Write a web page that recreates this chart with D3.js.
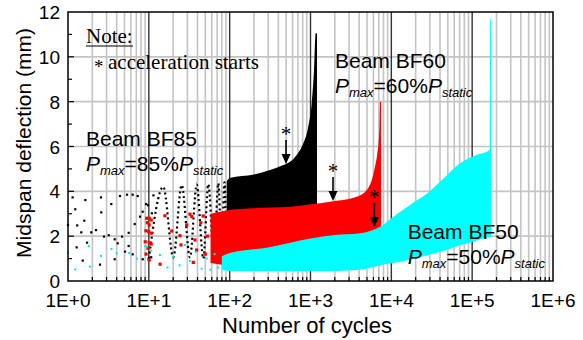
<!DOCTYPE html>
<html><head><meta charset="utf-8">
<script src="https://cdn.jsdelivr.net/npm/d3@7"></script>
<style>html,body{margin:0;padding:0;background:#fff;}svg{display:block;}</style>
</head><body>
<svg id="chart" width="583" height="340"></svg>
<script>
// ---------- data ----------
const xTickValues = [1, 10, 100, 1000, 10000, 100000, 1000000];
const xTickLabels = ["1E+0", "1E+1", "1E+2", "1E+3", "1E+4", "1E+5", "1E+6"];
const yTickValues = [0, 2, 4, 6, 8, 10, 12];

// Beam BF85 (black): dense envelope (cycles, min/max deflection)
const bf85N   = [92, 100, 200, 316, 461, 558, 675, 815, 939, 1035, 1105, 1159, 1204];
const bf85Top = [4.45, 4.6, 4.75, 4.95, 5.17, 5.32, 5.62, 6.14, 6.88, 7.93, 9.41, 11.05, 11.05];
const bf85Bot = [1.0, 1.0, 1.0, 1.0, 1.1, 1.1, 1.2, 1.3, 1.4, 1.5, 1.6, 1.7, 1.8];
// BF85 early sparse readings
const bf85DotN = [1.0,1.14,1.23,1.28,1.30,1.46,1.52,1.59,1.64,1.72,1.94,2.22,2.49,2.56,2.58,2.79,3.19,3.43,3.78,3.78,4.12,4.40,4.66,5.07,5.37,5.63,5.63,6.31,6.31,6.68,7.28,7.78,8.40,8.40,9.23,9.77,9.96,10.7,10.9,11.4];
const bf85DotD = [2.5,3.73,3.2,1.5,2.48,2.17,0.91,2.69,3.61,1.71,2.17,2.27,0.73,3.73,3.06,1.98,2.04,3.43,1.86,0.97,1.68,3.79,1.98,1.31,3.85,2.15,1.56,3.85,1.19,2.54,3.79,2.87,3.09,0.97,3.43,3.38,0.97,1.06,3.02,3.82];
// BF85 oscillation peaks / troughs (10 - 95 cycles)
const bf85WaveN = [10, 15.1, 20.1, 25.5, 32.3, 39.1, 47.2, 54.4, 64, 72.4, 80, 86, 92];
const bf85WaveD = [1.0, 4.2, 1.05, 4.28, 1.05, 4.3, 1.0, 4.32, 1.0, 4.36, 1.0, 4.4, 1.0];

// Beam BF60 (red)
const bf60N   = [58, 100, 200, 558, 1000, 1742, 3731, 4959, 5715, 6281, 6710, 7100, 7250, 7450];
const bf60Top = [3.0, 3.17, 3.25, 3.31, 3.42, 3.54, 3.76, 4.06, 4.5, 5.1, 5.7, 6.73, 8.0, 8.0];
const bf60Bot = [0.8, 0.7, 0.7, 0.7, 0.7, 0.7, 0.7, 0.7, 0.7, 0.7, 0.7, 0.7, 0.7, 0.7];
const bf60DotN = [9.03,9.23,9.2,9.41,9.6,9.77,9.96,10.1,10.1,10.1,10.1,10.7,10.7,10.7,13.8,15.8,19.2,24.3,25,29.4,32.3,34,35.5,37.2,39,44,50,47,53];
const bf60DotD = [1.75,1.2,2.24,2.8,2.6,1.46,2.2,2.8,2.5,1.71,0.94,2.72,2.13,1.65,0.75,2.91,2.23,2.02,1.61,2.5,2.98,2.87,0.83,1.83,1.38,2.6,1.2,2.9,2.0];

// Beam BF50 (cyan)
const bf50N   = [80, 100, 300, 1000, 2000, 4100, 7250, 10600, 17000, 27800, 44500, 70900, 113000, 165000, 167000, 171000];
const bf50Top = [1.1, 1.25, 1.5, 1.9, 2.05, 2.13, 2.42, 2.87, 3.39, 3.91, 4.58, 5.25, 5.62, 5.84, 11.7, 11.7];
const bf50Bot = [0.5, 0.45, 0.45, 0.45, 0.45, 0.5, 0.7, 0.8, 0.95, 1.15, 1.35, 1.6, 1.8, 1.95, 1.95, 1.95];
const bf50DotN = [1.0,1.23,1.8,1.87,2.56,3.44,4.0,5.7,7.1,9.0,9.41,10.7,13.7,17,20.1,24,28,32.3,38,45,52,58,65,72];
const bf50DotD = [1.26,0.52,1.56,0.64,1.12,1.43,1.24,1.25,1.0,1.55,1.53,1.35,1.16,0.6,1.08,0.7,1.61,0.89,1.3,0.55,1.01,0.5,1.2,0.6];

// "acceleration starts" markers (cycles, deflection) for BF85, BF60, BF50
const accelN = [498, 1898, 6164];
const accelD = [5.22, 3.57, 2.41];

// ---------- drawing ----------
const svg = d3.select("#chart");
const L = 68, R = 553, T = 12, B = 281;
const x = d3.scaleLog().domain([1, 1e6]).range([L, R]);
const y = d3.scaleLinear().domain([0, 12]).range([B, T]);
const sans = "'Liberation Sans', Arial, sans-serif";
const serif = "'Liberation Serif', 'Times New Roman', serif";

svg.append("rect").attr("width", 583).attr("height", 340).attr("fill", "#fff");

// grid
const minorX = [];
for (let e = 0; e < 6; e++) for (let k = 2; k <= 9; k++) minorX.push(k * Math.pow(10, e));
const grid = svg.append("g");
grid.selectAll(".gxm").data(minorX).enter().append("line")
  .attr("x1", d => x(d)).attr("x2", d => x(d)).attr("y1", T).attr("y2", B)
  .attr("stroke", "#c4c4c4").attr("stroke-width", 1.6);
grid.selectAll(".gy").data([2, 4, 6, 8, 10]).enter().append("line")
  .attr("x1", L).attr("x2", R).attr("y1", d => y(d)).attr("y2", d => y(d))
  .attr("stroke", "#c4c4c4").attr("stroke-width", 1.6);
grid.selectAll(".gxM").data(xTickValues.slice(1, -1)).enter().append("line")
  .attr("x1", d => x(d)).attr("x2", d => x(d)).attr("y1", T).attr("y2", B)
  .attr("stroke", "#333").attr("stroke-width", 1.4);

// data
function zipA(ns, a, b) { return ns.map((n, i) => ({ n: n, t: a[i], b: b[i] })); }
function zipP(ns, ds) { return ns.map((n, i) => ({ n: n, d: ds[i] })); }
const area = d3.area().x(d => x(d.n)).y0(d => y(d.b)).y1(d => y(d.t)).curve(d3.curveMonotoneX);
const gData = svg.append("g");

function dots(ns, ds, color, s) {
  gData.append("g").selectAll("rect").data(zipP(ns, ds)).enter().append("rect")
    .attr("x", d => x(d.n) - s / 2).attr("y", d => y(d.d) - s / 2)
    .attr("width", s).attr("height", s).attr("fill", color);
}

// BF85
dots(bf85DotN, bf85DotD, "#000", 2.2);
gData.append("path").datum(zipP(bf85WaveN, bf85WaveD))
  .attr("d", d3.line().x(d => x(d.n)).y(d => y(d.d)).curve(d3.curveMonotoneX))
  .attr("fill", "none").attr("stroke", "#000").attr("stroke-width", 2.2)
  .attr("stroke-dasharray", "2,3");
gData.append("path").datum(zipA(bf85N, bf85Top, bf85Bot)).attr("d", area).attr("fill", "#000");

// BF60
dots(bf60DotN, bf60DotD, "#ff0000", 3.2);
gData.append("path").datum(zipA(bf60N, bf60Top, bf60Bot)).attr("d", area).attr("fill", "#ff0000");

// BF50
dots(bf50DotN, bf50DotD, "#00e8f0", 2);
gData.append("path").datum(zipA(bf50N, bf50Top, bf50Bot)).attr("d", area).attr("fill", "#00ffff");

// frame & ticks
svg.append("rect").attr("x", L).attr("y", T).attr("width", R - L).attr("height", B - T)
  .attr("fill", "none").attr("stroke", "#000").attr("stroke-width", 1.5);
const ticks = svg.append("g").attr("stroke", "#000").attr("stroke-width", 1.2);
ticks.selectAll(".tb").data(minorX).enter().append("line")
  .attr("x1", d => x(d)).attr("x2", d => x(d)).attr("y1", B).attr("y2", B - 4);
ticks.selectAll(".tl").data(d3.range(1, 12)).enter().append("line")
  .attr("x1", L).attr("x2", d => L + (d % 2 ? 4 : 6)).attr("y1", d => y(d)).attr("y2", d => y(d));

// tick labels
svg.append("g").selectAll("text").data(xTickValues).enter().append("text")
  .attr("x", d => x(d)).attr("y", 307).attr("text-anchor", "middle")
  .attr("font-family", sans).attr("font-size", 19).attr("fill", "#000")
  .text((d, i) => xTickLabels[i]);
svg.append("g").selectAll("text").data(yTickValues).enter().append("text")
  .attr("x", 60).attr("y", d => y(d) + 7).attr("text-anchor", "end")
  .attr("font-family", sans).attr("font-size", 19).attr("fill", "#000")
  .text(d => d);

// axis titles
svg.append("text").attr("x", 307).attr("y", 333).attr("text-anchor", "middle")
  .attr("font-family", sans).attr("font-size", 22).text("Number of cycles");
svg.append("text").attr("transform", "translate(31,143) rotate(-90)").attr("text-anchor", "middle")
  .attr("font-family", sans).attr("font-size", 21).text("Midspan deflection (mm)");

// note
svg.append("text").attr("x", 86).attr("y", 42.5).attr("font-family", serif).attr("font-size", 21).text("Note:");
svg.append("line").attr("x1", 86).attr("x2", 133).attr("y1", 46).attr("y2", 46).attr("stroke", "#000").attr("stroke-width", 1);
svg.append("text").attr("x", 94).attr("y", 73).attr("font-family", serif).attr("font-size", 19).text("*");
svg.append("text").attr("x", 108).attr("y", 68.5).attr("font-family", serif).attr("font-size", 21).text("acceleration starts");

// beam labels
function beamLabel(x0, y0, name, pct) {
  svg.append("text").attr("x", x0).attr("y", y0).attr("font-family", sans).attr("font-size", 21).text(name);
  const t = svg.append("text").attr("x", x0).attr("y", y0 + 24.5).attr("font-family", sans).attr("font-size", 21);
  t.append("tspan").attr("font-style", "italic").text("P");
  t.append("tspan").attr("font-style", "italic").attr("font-size", 13).attr("dy", 4).text("max");
  t.append("tspan").attr("dy", -4).text("=" + pct + "%");
  t.append("tspan").attr("font-style", "italic").text("P");
  t.append("tspan").attr("font-style", "italic").attr("font-size", 13).attr("dy", 4).text("static");
}
beamLabel(86, 146, "Beam BF85", 85);
beamLabel(335, 68.3, "Beam BF60", 60);
beamLabel(407.7, 239, "Beam BF50", 50);

// acceleration arrows
accelN.forEach((n, i) => {
  const ax = x(n), tip = y(accelD[i]);
  svg.append("line").attr("x1", ax).attr("x2", ax).attr("y1", tip - 24).attr("y2", tip - 8)
    .attr("stroke", "#000").attr("stroke-width", 1.6);
  svg.append("path").attr("d", `M${ax},${tip} L${ax - 4.5},${tip - 10} L${ax + 4.5},${tip - 10} Z`).attr("fill", "#000");
  svg.append("text").attr("x", ax).attr("y", tip - 22.5).attr("text-anchor", "middle")
    .attr("font-family", serif).attr("font-size", 21).text("*");
});
</script>
</body></html>
